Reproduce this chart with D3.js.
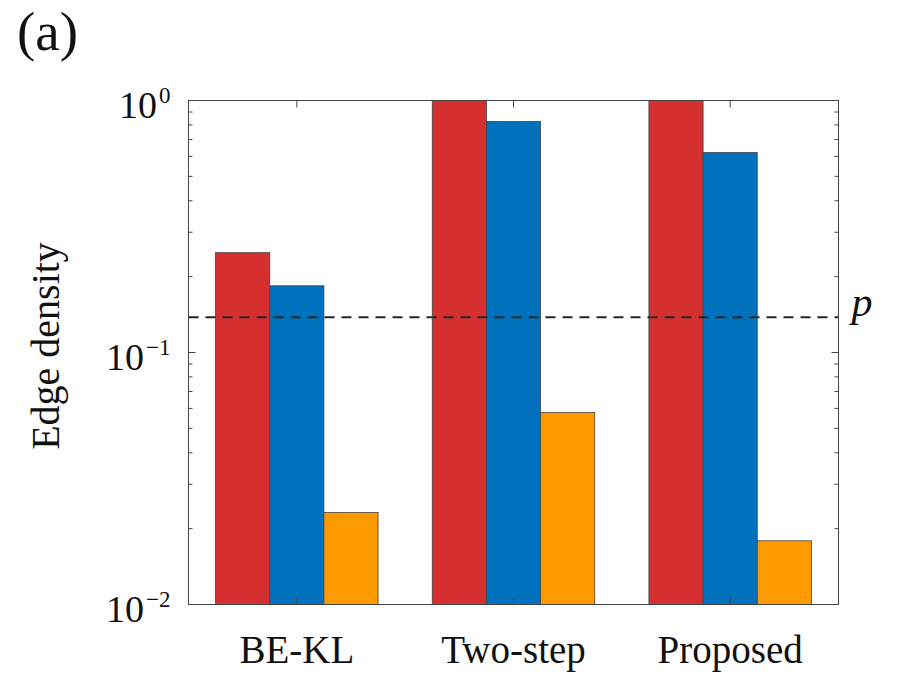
<!DOCTYPE html>
<html>
<head>
<meta charset="utf-8">
<script src="https://cdn.jsdelivr.net/npm/d3@7"></script>
<style>
  body { margin: 0; background: #fff; }
</style>
</head>
<body>
<div id="chart"></div>
<script>
var methods = ["BE-KL", "Two-step", "Proposed"];
var series1 = [0.249, 1.0, 1.0];      // red
var series2 = [0.184, 0.826, 0.622];  // blue
var series3 = [0.0232, 0.0578, 0.0179]; // orange
var pValue = 0.138;
var yTicks = [1e-2, 1e-1, 1e0];
var yTickExp = ["\u22122", "\u22121", "0"];

var colors = ["#d62f30", "#0072bd", "#ff9900"];
var font = "'Liberation Serif', 'DejaVu Serif', serif";
var width = 899, height = 679;
var margin = { left: 188.5, right: 60.5, top: 100.5, bottom: 74.5 };
var iw = width - margin.left - margin.right;
var ih = height - margin.top - margin.bottom;

var svg = d3.select("#chart").append("svg")
  .attr("width", width)
  .attr("height", height)
  .style("font-family", font);

var g = svg.append("g")
  .attr("transform", "translate(" + margin.left + "," + margin.top + ")");

var x = d3.scaleBand().domain(methods).range([0, iw]).padding(0);
var inner = d3.scaleBand().domain([0, 1, 2])
  .range([x.bandwidth() * 0.125, x.bandwidth() * 0.875]).padding(0);
var y = d3.scaleLog().domain([1e-2, 1]).range([ih, 0]);

var allSeries = [series1, series2, series3];

// bars
methods.forEach(function (m, i) {
  var grp = g.append("g").attr("transform", "translate(" + x(m) + ",0)");
  allSeries.forEach(function (s, k) {
    grp.append("rect")
      .attr("x", inner(k))
      .attr("width", inner.bandwidth())
      .attr("y", y(s[i]))
      .attr("height", ih - y(s[i]))
      .attr("fill", colors[k])
      .attr("stroke", "#444")
      .attr("stroke-width", 0.8);
  });
});

// dashed reference line
g.append("line")
  .attr("x1", 0).attr("x2", iw)
  .attr("y1", y(pValue)).attr("y2", y(pValue))
  .attr("stroke", "#262626")
  .attr("stroke-width", 2)
  .attr("stroke-dasharray", "10,7");

g.append("text")
  .attr("x", iw + 13)
  .attr("y", y(pValue) - 1)
  .attr("font-size", 42)
  .attr("font-style", "italic")
  .attr("fill", "#111")
  .text("p");

// minor and major y ticks (both sides, inward)
var minor = [];
[1e-2, 1e-1].forEach(function (d) {
  for (var k = 2; k <= 9; k++) minor.push(d * k);
});
var axisColor = "#444";
minor.forEach(function (v) {
  g.append("line").attr("x1", 0).attr("x2", 4).attr("y1", y(v)).attr("y2", y(v))
    .attr("stroke", axisColor);
  g.append("line").attr("x1", iw).attr("x2", iw - 4).attr("y1", y(v)).attr("y2", y(v))
    .attr("stroke", axisColor);
});
yTicks.forEach(function (v) {
  g.append("line").attr("x1", 0).attr("x2", 7).attr("y1", y(v)).attr("y2", y(v))
    .attr("stroke", axisColor);
  g.append("line").attr("x1", iw).attr("x2", iw - 7).attr("y1", y(v)).attr("y2", y(v))
    .attr("stroke", axisColor);
});

// x ticks top and bottom at group centers
methods.forEach(function (m) {
  var cx = x(m) + x.bandwidth() / 2;
  g.append("line").attr("x1", cx).attr("x2", cx).attr("y1", 0).attr("y2", 7)
    .attr("stroke", axisColor);
  g.append("line").attr("x1", cx).attr("x2", cx).attr("y1", ih).attr("y2", ih - 7)
    .attr("stroke", axisColor);
});

// frame
g.append("rect")
  .attr("x", 0).attr("y", 0).attr("width", iw).attr("height", ih)
  .attr("fill", "none").attr("stroke", axisColor).attr("stroke-width", 1);

// y tick labels 10^n
yTicks.forEach(function (v, i) {
  var t = g.append("text")
    .attr("x", -18)
    .attr("y", y(v) + 17)
    .attr("text-anchor", "end")
    .attr("font-size", 38)
    .attr("fill", "#111");
  t.append("tspan").text("10");
  t.append("tspan").attr("dy", -15).attr("dx", 2).attr("font-size", 23).text(yTickExp[i]);
});

// category labels
methods.forEach(function (m) {
  g.append("text")
    .attr("x", x(m) + x.bandwidth() / 2)
    .attr("y", ih + 58)
    .attr("text-anchor", "middle")
    .attr("font-size", 39)
    .attr("fill", "#111")
    .text(m);
});

// y label
svg.append("text")
  .attr("transform", "translate(59,346) rotate(-90)")
  .attr("text-anchor", "middle")
  .attr("font-size", 40)
  .attr("fill", "#111")
  .text("Edge density");

// panel label
svg.append("text")
  .attr("x", 17)
  .attr("y", 50)
  .attr("font-size", 55)
  .attr("fill", "#111")
  .text("(a)");
</script>
</body>
</html>
